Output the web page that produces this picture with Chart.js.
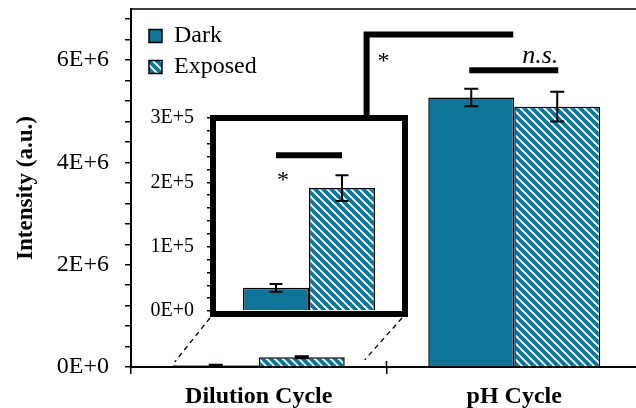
<!DOCTYPE html>
<html>
<head>
<meta charset="utf-8">
<script src="https://cdn.jsdelivr.net/npm/chart.js@4"></script>
<style>
  html, body { margin: 0; padding: 0; background: #fff; overflow: hidden; }
  #wrap { position: relative; width: 636px; height: 408px; overflow: hidden; }
  #main { position: absolute; left: 0; top: 0; }
  #inset { position: absolute; left: 130px; top: 100px; }
</style>
</head>
<body>
<div id="wrap">
  <canvas id="main" width="650" height="408"></canvas>
  <canvas id="inset" width="285" height="230"></canvas>
</div>
<script>
const categories = ['Dilution Cycle', 'pH Cycle'];
const darkMean = [3.6e4, 5.27e6];
const darkErr = [6e3, 1.7e5];
const exposedMean = [1.91e5, 5.09e6];
const exposedErr = [2.0e4, 2.9e5];
const mainTickLabels = ['0E+0', '2E+6', '4E+6', '6E+6'];
const insetTickLabels = ['0E+0', '1E+5', '2E+5', '3E+5'];

const teal = '#0e7599';
const serif = 'Liberation Serif';

function stripes() {
    const c = document.createElement('canvas');
    c.width = 8; c.height = 8;
    const g = c.getContext('2d');
    g.fillStyle = '#fff';
    g.fillRect(0, 0, 8, 8);
    g.strokeStyle = teal;
    g.lineWidth = 3.8;
    g.beginPath();
    for (const k of [-8, 0, 8]) { g.moveTo(k - 1, -1); g.lineTo(k + 9, 9); }
    g.stroke();
    return g.createPattern(c, 'repeat');
}

// minor ticks every step, label only where a tick label exists
function tickSetup(labels, step, max) {
    return {
        afterBuildTicks: function(scale) {
            const t = [];
            for (let i = 0; i * step <= max + 1e-6; i++) t.push({value: i * step});
            scale.ticks = t;
        },
        callback: function(value) {
            const l = labels.find(function(s) { return Math.abs(Number(s) - value) < 1; });
            return l || '';
        }
    };
}

function noPad(s) {
    s.paddingTop = 0; s.paddingBottom = 0;
    s.paddingLeft = 0; s.paddingRight = 0;
}

const errorBars = {
    id: 'errorBars',
    afterDatasetsDraw(chart, args, opts) {
        const ctx = chart.ctx;
        const y = chart.scales.y;
        ctx.save();
        ctx.strokeStyle = '#000';
        ctx.lineWidth = 2;
        opts.errors.forEach(function(errs, di) {
            const meta = chart.getDatasetMeta(di);
            meta.data.forEach(function(bar, i) {
                const v = chart.data.datasets[di].data[i];
                const y1 = y.getPixelForValue(v + errs[i]);
                const y2 = y.getPixelForValue(v - errs[i]);
                ctx.beginPath();
                ctx.moveTo(bar.x, y1); ctx.lineTo(bar.x, y2);
                ctx.moveTo(bar.x - opts.cap, y1); ctx.lineTo(bar.x + opts.cap, y1);
                ctx.moveTo(bar.x - opts.cap, y2); ctx.lineTo(bar.x + opts.cap, y2);
                ctx.stroke();
            });
        });
        ctx.restore();
    }
};

const pattern = stripes();

function datasets(dark, exposed) {
    return [
        {
            label: 'Dark',
            data: dark,
            backgroundColor: teal,
            borderColor: '#000',
            borderWidth: 1.5
        },
        {
            label: 'Exposed',
            data: exposed,
            backgroundColor: pattern,
            borderColor: '#000',
            borderWidth: 1.5
        }
    ];
}

// ---- inset (zoom of the dilution cycle) ----
const insetCanvas = document.getElementById('inset');
const insetTicks = tickSetup(insetTickLabels, 0.2e5, 3e5);

const insetChart = new Chart(insetCanvas, {
    type: 'bar',
    data: {
        labels: [categories[0]],
        datasets: datasets([darkMean[0]], [exposedMean[0]])
    },
    options: {
        responsive: false,
        animation: false,
        categoryPercentage: 0.6875,
        barPercentage: 1,
        layout: {padding: {top: 18, right: 10, bottom: 19, left: 0}},
        plugins: {
            legend: {display: false},
            tooltip: {enabled: false},
            errorBars: {errors: [[darkErr[0]], [exposedErr[0]]], cap: 6.5}
        },
        scales: {
            x: {display: false, offset: true},
            y: {
                min: 0,
                max: 3e5,
                afterFit: function(s) { s.width = 83; noPad(s); },
                afterBuildTicks: insetTicks.afterBuildTicks,
                ticks: {
                    autoSkip: false,
                    callback: insetTicks.callback,
                    color: '#000',
                    padding: 13,
                    font: {family: serif, size: 20}
                },
                grid: {drawOnChartArea: false, color: '#000', tickLength: 6, lineWidth: 1.5},
                border: {display: false}
            }
        }
    },
    plugins: [errorBars, {
        id: 'insetFrame',
        beforeDatasetsDraw(chart) {
            const a = chart.chartArea;
            const ctx = chart.ctx;
            ctx.save();
            ctx.fillStyle = '#fff';
            ctx.fillRect(a.left, a.top, a.right - a.left, a.bottom - a.top);
            ctx.restore();
        },
        afterDraw(chart) {
            const a = chart.chartArea;
            const ctx = chart.ctx;
            const y = chart.scales.y;
            const cx = (a.left + a.right) / 2;
            ctx.save();
            ctx.strokeStyle = '#000';
            ctx.lineWidth = 6;
            ctx.strokeRect(a.left, a.top, a.right - a.left, a.bottom + 3 - a.top);
            // significance bar
            ctx.beginPath();
            ctx.moveTo(cx - 33, y.getPixelForValue(2.42e5));
            ctx.lineTo(cx + 33, y.getPixelForValue(2.42e5));
            ctx.stroke();
            ctx.fillStyle = '#000';
            ctx.font = '24px ' + serif;
            ctx.textAlign = 'center';
            ctx.textBaseline = 'alphabetic';
            ctx.fillText('*', cx - 26, y.getPixelForValue(1.92e5));
            ctx.restore();
        }
    }]
});

// ---- main chart ----
const mainTicks = tickSetup(mainTickLabels, 0.4e6, 7e6);

const annotations = {
    id: 'annotations',
    afterDraw(chart) {
        const ctx = chart.ctx;
        const a = chart.chartArea;
        const x = chart.scales.x;
        const y = chart.scales.y;
        const ia = insetChart.chartArea;
        const ox = insetCanvas.offsetLeft;
        const oy = insetCanvas.offsetTop;
        ctx.save();
        ctx.strokeStyle = '#000';

        // frame top line
        ctx.lineWidth = 1.5;
        ctx.beginPath();
        ctx.moveTo(a.left, a.top);
        ctx.lineTo(chart.width, a.top);
        // upper half of the category divider tick
        const mid = (x.getPixelForValue(0) + x.getPixelForValue(1)) / 2;
        ctx.moveTo(mid, a.bottom);
        ctx.lineTo(mid, a.bottom - 6);
        ctx.stroke();

        // bracket from inset to pH cycle
        const bx = ox + ia.left + 0.8 * (ia.right - ia.left);
        const pH = x.getPixelForValue(1);
        ctx.lineWidth = 6;
        ctx.beginPath();
        ctx.moveTo(bx, oy + ia.top);
        ctx.lineTo(bx, y.getPixelForValue(6.5e6));
        ctx.lineTo(pH - 1, y.getPixelForValue(6.5e6));
        ctx.stroke();

        // n.s. bar
        ctx.beginPath();
        ctx.moveTo(pH - 45, y.getPixelForValue(5.8e6));
        ctx.lineTo(pH + 44, y.getPixelForValue(5.8e6));
        ctx.stroke();

        ctx.fillStyle = '#000';
        ctx.textBaseline = 'alphabetic';
        ctx.font = 'italic 26px ' + serif;
        ctx.textAlign = 'right';
        ctx.fillText('n.s.', pH + 44, y.getPixelForValue(5.94e6));
        ctx.font = '24px ' + serif;
        ctx.textAlign = 'center';
        ctx.fillText('*', bx + 17, y.getPixelForValue(5.85e6));

        // dashed zoom lines
        const d0 = chart.getDatasetMeta(0).data[0];
        const d1 = chart.getDatasetMeta(1).data[0];
        const gl = d0.x - d0.width / 2;
        const gr = d1.x + d1.width / 2;
        ctx.lineWidth = 1.3;
        ctx.setLineDash([5, 4]);
        ctx.beginPath();
        ctx.moveTo(ox + ia.left - 3, oy + ia.bottom + 7);
        ctx.lineTo(gl + 2, y.getPixelForValue(0.1e6));
        ctx.moveTo(ox + ia.right - 3, oy + ia.bottom + 7);
        ctx.lineTo(gr + 20, y.getPixelForValue(0.14e6));
        ctx.stroke();
        ctx.restore();
    }
};

const mainChart = new Chart(document.getElementById('main'), {
    type: 'bar',
    data: {
        labels: categories,
        datasets: datasets(darkMean, exposedMean)
    },
    options: {
        responsive: false,
        animation: false,
        categoryPercentage: 0.673,
        barPercentage: 1,
        layout: {padding: {top: 9, right: 8, left: 0, bottom: 0}},
        plugins: {
            tooltip: {enabled: false},
            errorBars: {errors: [darkErr, exposedErr], cap: 7},
            legend: {
                position: 'chartArea',
                align: 'start',
                labels: {
                    boxWidth: 13,
                    boxHeight: 13,
                    padding: 7,
                    color: '#000',
                    font: {family: serif, size: 24}
                }
            }
        },
        scales: {
            x: {
                offset: true,
                afterFit: function(s) { s.height = 41; noPad(s); },
                ticks: {color: '#000', padding: 8, font: {family: serif, size: 24, weight: 'bold'}},
                grid: {offset: true, drawOnChartArea: false, color: '#000', tickLength: 7, lineWidth: 1.5},
                border: {color: '#000', width: 2}
            },
            y: {
                min: 0,
                max: 7e6,
                afterFit: function(s) { s.width = 131; noPad(s); },
                afterBuildTicks: mainTicks.afterBuildTicks,
                ticks: {
                    autoSkip: false,
                    callback: mainTicks.callback,
                    color: '#000',
                    padding: 16,
                    font: {family: serif, size: 24}
                },
                grid: {drawOnChartArea: false, color: '#000', tickLength: 6, lineWidth: 1.5},
                border: {color: '#000', width: 2},
                title: {
                    display: true,
                    text: 'Intensity (a.u.)',
                    color: '#000',
                    padding: {top: 12, bottom: 0},
                    font: {family: serif, size: 23, weight: 'bold'}
                }
            }
        }
    },
    plugins: [errorBars, annotations, {
        id: 'legendShift',
        afterLayout(chart) {
            chart.legend.left += 11;
            chart.legend.top += 17;
        }
    }]
});
</script>
</body>
</html>
